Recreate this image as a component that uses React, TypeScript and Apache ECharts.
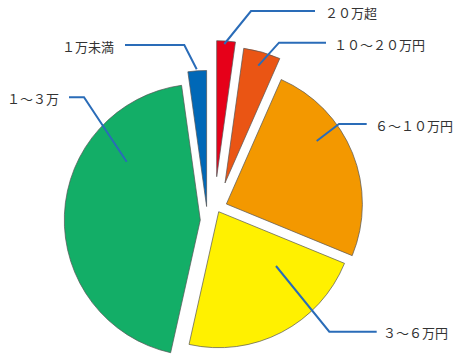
import { useEffect, useRef } from 'react';
import * as echarts from 'echarts';

// Data
const categories = ['２０万超', '１０～２０万円', '６～１０万円', '３～６万円', '１～３万', '１万未満'];
const shares = [2.2, 4.4, 24.6, 22.3, 44.3, 2.2];

// Styles / layout
const sliceColors = ['#e60019', '#ea5514', '#f39800', '#fff100', '#13ae67', '#0068b7'];
const sliceCenters = [
  [216.7, 176.7],
  [225, 183],
  [226.4, 204],
  [218.7, 211.7],
  [200.3, 220],
  [206.6, 206.5],
];
const labelAnchors = [
  { x: 325, y: 12, align: 'left' },
  { x: 334, y: 44, align: 'left' },
  { x: 375, y: 125, align: 'left' },
  { x: 383, y: 332.5, align: 'left' },
  { x: 59, y: 98.5, align: 'right' },
  { x: 114, y: 46, align: 'right' },
];
const guidePoints = [
  [[224.3, 44], [251, 11], [315, 11]],
  [[258.3, 65.7], [279, 42.7], [326, 42.7]],
  [[316.7, 141], [339, 124], [366.7, 124]],
  [[276, 266], [329.3, 331.7], [376.7, 331.7]],
  [[126.7, 161.7], [84, 97.3], [69, 97.3]],
  [[196.7, 69.3], [184.3, 45], [125, 45]],
];

const RADIUS = 136;
const LINE_COLOR = '#2a6cb8';
const TRANSPARENT = 'rgba(0,0,0,0)';

export default function App() {
  const ref = useRef<HTMLDivElement>(null);
  useEffect(() => {
    if (!ref.current) return;
    const chart = echarts.init(ref.current, undefined, { renderer: 'svg' });

    // one pie per slice, so each slice can sit at its own exploded position
    const sliceSeries = categories.map((_, si) => ({
      type: 'pie',
      z: 2,
      startAngle: 90,
      clockwise: true,
      center: sliceCenters[si],
      radius: [0, RADIUS],
      silent: true,
      emphasis: { disabled: true },
      label: { show: false },
      labelLine: { show: false },
      data: categories.map((name, di) => ({
        name,
        value: shares[di],
        itemStyle:
          di === si
            ? { color: sliceColors[di], borderColor: '#555', borderWidth: 0.7 }
            : { color: TRANSPARENT, borderWidth: 0 },
      })),
    }));

    // transparent pie on top carrying the labels and guide lines
    const labelSeries = {
      type: 'pie',
      z: 5,
      startAngle: 90,
      clockwise: true,
      center: sliceCenters[4],
      radius: [0, RADIUS],
      silent: true,
      avoidLabelOverlap: false,
      emphasis: { disabled: true },
      itemStyle: { color: TRANSPARENT, borderWidth: 0 },
      data: categories.map((name, di) => ({ name, value: shares[di] })),
      label: {
        show: true,
        formatter: '{b}',
        fontFamily: '"Noto Sans CJK JP", "Noto Sans", sans-serif',
        fontSize: 13,
        color: '#333',
      },
      labelLine: {
        show: true,
        showAbove: true,
        lineStyle: { color: LINE_COLOR, width: 2 },
      },
      labelLayout: (params: any) => {
        const a = labelAnchors[params.dataIndex];
        return {
          x: a.x,
          y: a.y,
          align: a.align,
          verticalAlign: 'middle',
          labelLinePoints: guidePoints[params.dataIndex],
        };
      },
    };

    chart.setOption({
      animation: false,
      backgroundColor: '#ffffff',
      series: [...sliceSeries, labelSeries],
    });
    return () => chart.dispose();
  }, []);
  return (
    <div
      ref={ref}
      style={{ position: 'absolute', left: 0, top: 0, width: 463, height: 359 }}
    />
  );
}
